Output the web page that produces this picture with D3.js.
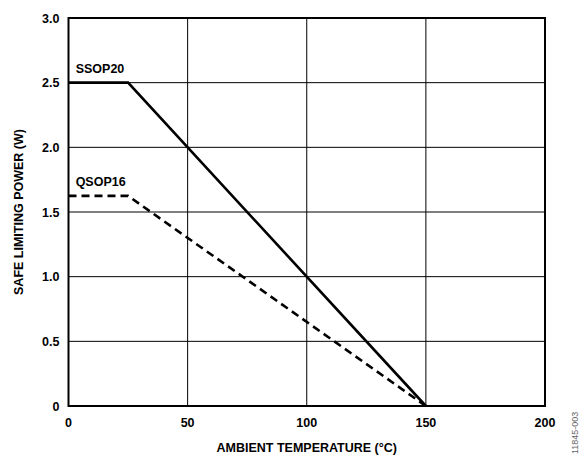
<!DOCTYPE html>
<html>
<head>
<meta charset="utf-8">
<script src="https://cdn.jsdelivr.net/npm/d3@7"></script>
<style>
  body { margin: 0; background: #fff; }
  svg text { font-family: "Liberation Sans", Arial, sans-serif; font-weight: bold; fill: #000; }
</style>
</head>
<body>
<script>
var width = 582, height = 457;
var margin = {top: 18, right: 37, bottom: 51, left: 68.5};

// data
var xTicks = [0, 50, 100, 150, 200];
var yTicks = [0, 0.5, 1.0, 1.5, 2.0, 2.5, 3.0];
var ssop20Temp = [0, 25, 150];
var ssop20Power = [2.5, 2.5, 0];
var qsop16Temp = [0, 25, 150];
var qsop16Power = [1.625, 1.625, 0];

var svg = d3.select("body").append("svg")
  .attr("width", width)
  .attr("height", height);

var x = d3.scaleLinear().domain([0, 200]).range([margin.left, width - margin.right]);
var y = d3.scaleLinear().domain([0, 3]).range([height - margin.bottom, margin.top]);

// grid
svg.append("g").selectAll("line.vx")
  .data(xTicks)
  .enter().append("line")
  .attr("x1", function(d) { return x(d); })
  .attr("x2", function(d) { return x(d); })
  .attr("y1", y(0)).attr("y2", y(3))
  .attr("stroke", "#000").attr("stroke-width", 1);

svg.append("g").selectAll("line.hy")
  .data(yTicks)
  .enter().append("line")
  .attr("y1", function(d) { return y(d); })
  .attr("y2", function(d) { return y(d); })
  .attr("x1", x(0)).attr("x2", x(200))
  .attr("stroke", "#000").attr("stroke-width", 1);

svg.append("rect")
  .attr("x", x(0)).attr("y", y(3))
  .attr("width", x(200) - x(0)).attr("height", y(0) - y(3))
  .attr("fill", "none").attr("stroke", "#000").attr("stroke-width", 2);

// tick labels
svg.append("g").selectAll("text")
  .data(xTicks)
  .enter().append("text")
  .attr("x", function(d) { return x(d); })
  .attr("y", y(0) + 21)
  .attr("text-anchor", "middle")
  .attr("font-size", 12.5)
  .text(function(d) { return d; });

svg.append("g").selectAll("text")
  .data(yTicks)
  .enter().append("text")
  .attr("x", x(0) - 9)
  .attr("y", function(d) { return y(d) + 4.5; })
  .attr("text-anchor", "end")
  .attr("font-size", 12.5)
  .text(function(d) { return d === 0 ? "0" : d.toFixed(1); });

// series
var line = d3.line()
  .x(function(d) { return x(d[0]); })
  .y(function(d) { return y(d[1]); });

svg.append("path")
  .datum(d3.zip(ssop20Temp, ssop20Power))
  .attr("d", line)
  .attr("fill", "none").attr("stroke", "#000").attr("stroke-width", 2.6);

svg.append("path")
  .datum(d3.zip(qsop16Temp, qsop16Power))
  .attr("d", line)
  .attr("fill", "none").attr("stroke", "#000").attr("stroke-width", 2.6)
  .attr("stroke-dasharray", "8,5");

svg.append("text")
  .attr("x", x(3)).attr("y", y(2.5) - 10)
  .attr("font-size", 12.5)
  .text("SSOP20");

svg.append("text")
  .attr("x", x(3)).attr("y", y(1.625) - 10)
  .attr("font-size", 12.5)
  .text("QSOP16");

// axis titles
svg.append("text")
  .attr("x", (x(0) + x(200)) / 2)
  .attr("y", height - 5)
  .attr("text-anchor", "middle")
  .attr("font-size", 12.5)
  .text("AMBIENT TEMPERATURE (°C)");

svg.append("text")
  .attr("transform", "translate(23," + ((y(0) + y(3)) / 2) + ")rotate(-90)")
  .attr("text-anchor", "middle")
  .attr("font-size", 12.5)
  .text("SAFE LIMITING POWER (W)");

svg.append("text")
  .attr("transform", "translate(578,454)rotate(-90)")
  .attr("font-size", 9)
  .style("font-weight", "normal")
  .style("fill", "#666")
  .text("11845-003");
</script>
</body>
</html>
